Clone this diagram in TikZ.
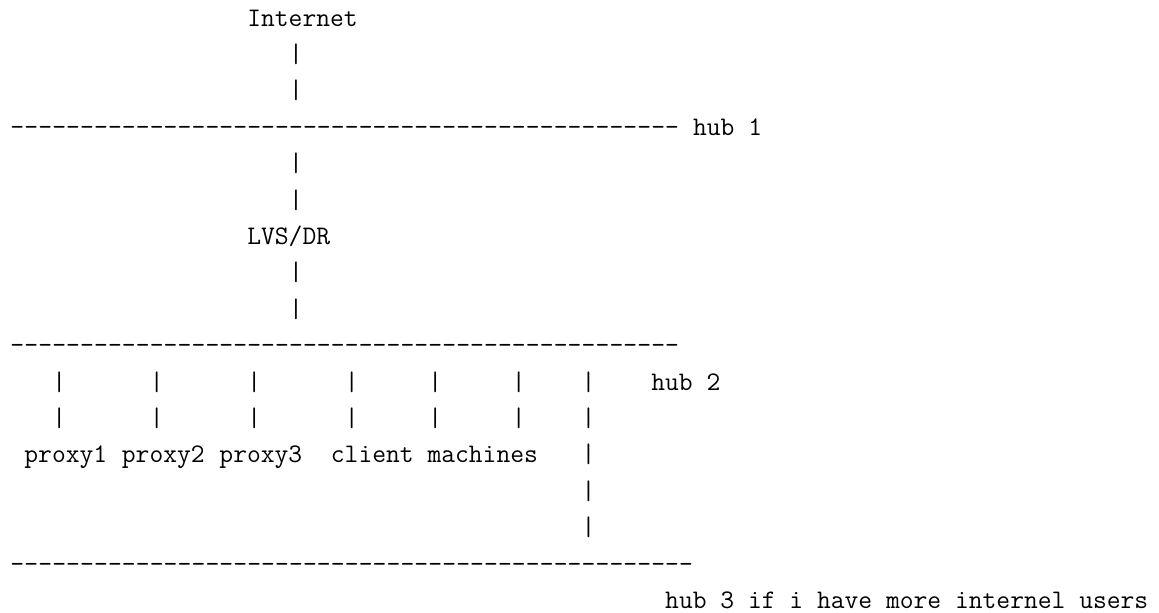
\documentclass[tikz,border=0pt]{standalone}
\begin{document}
\begin{tikzpicture}[
  txt/.style={font=\ttfamily\fontsize{13.4pt}{18.2pt}\selectfont,
              anchor=base west, inner sep=0pt, outer sep=0pt},
  wire/.style={txt}
]
\useasboundingbox (0,0) rectangle (579.5pt,-306pt);
% one unit = one character column across, one text line down
\begin{scope}[shift={(5.25pt,-13pt)}, x=6.965pt, y=-18.2pt]
  % top: internet uplink
  \node[txt] (inet) at (17,0) {Internet};
  \node[wire] (v1) at (20,1) {|};
  \node[wire] (v2) at (20,2) {|};
  % hub 1
  \foreach \c in {0,...,47} \node[wire] (h1-\c) at (\c,3) {-};
  \node[txt] (hub1) at (49,3) {hub 1};
  \node[wire] (v3) at (20,4) {|};
  \node[wire] (v4) at (20,5) {|};
  % director
  \node[txt] (lvs) at (17,6) {LVS/DR};
  \node[wire] (v5) at (20,7) {|};
  \node[wire] (v6) at (20,8) {|};
  % hub 2
  \foreach \c in {0,...,47} \node[wire] (h2-\c) at (\c,9) {-};
  \foreach \c in {3,10,17,24,30,36,41} {
    \node[wire] (a\c) at (\c,10) {|};
    \node[wire] (b\c) at (\c,11) {|};
  }
  \node[txt] (hub2) at (46,10) {hub 2};
  % hosts on hub 2
  \node[txt] (p1) at (1,12) {proxy1};
  \node[txt] (p2) at (8,12) {proxy2};
  \node[txt] (p3) at (15,12) {proxy3};
  \node[txt] (cm) at (23,12) {client machines};
  \node[wire] (c1) at (41,12) {|};
  \node[wire] (c2) at (41,13) {|};
  \node[wire] (c3) at (41,14) {|};
  % hub 3
  \foreach \c in {0,...,48} \node[wire] (h3-\c) at (\c,15) {-};
  \node[txt] (hub3) at (47,16) {hub 3 if i have more internel users};
\end{scope}
\end{tikzpicture}
\end{document}
